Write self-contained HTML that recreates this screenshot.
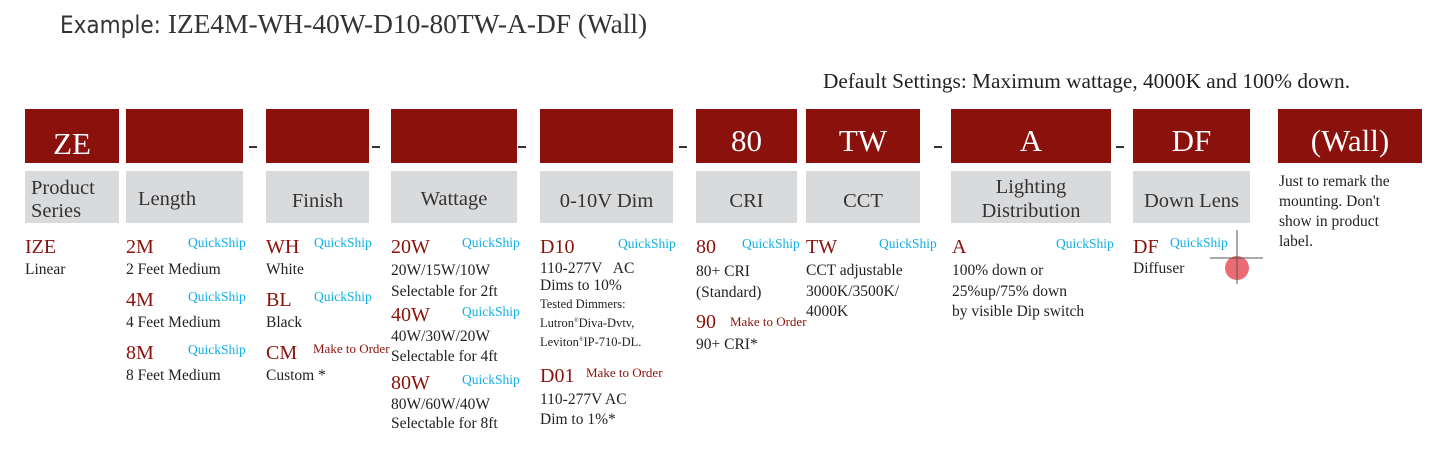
<!DOCTYPE html>
<html><head><meta charset="utf-8"><style>
body{margin:0;width:1450px;height:457px;background:#fff;position:relative;overflow:hidden;font-family:"Liberation Serif",serif;color:#222}
.a{position:absolute;line-height:1;white-space:nowrap}
.r{position:absolute;background:#8b120c;color:#fff;top:109px;height:54px;font-size:31px;display:flex;align-items:flex-end;justify-content:center;box-sizing:border-box}
.r span{position:relative;top:-4px}
.g{position:absolute;background:#d9dadc;color:#333;top:171px;height:52px;font-size:20.5px;display:flex;align-items:center;justify-content:center;line-height:23px;text-align:center;box-sizing:border-box}
.c{font-size:20px;color:#8b120c}
.q{font-size:13.5px;color:#10aee6}
.m{font-size:13px;color:#8b120c}
.d{font-size:15.5px;color:#222}
.dash{position:absolute;top:146px;width:8px;height:1.5px;background:#333}
</style></head><body>
<div class="a" style="left:60px;top:11px;font-size:27.4px;color:#333"><span style="font-family:'DejaVu Sans Condensed','Liberation Sans',sans-serif;font-size:24px">Example:</span> IZE4M-WH-40W-D10-80TW-A-DF (Wall)</div>
<div class="a" style="left:823px;top:71px;font-size:21.3px;color:#222">Default Settings: Maximum wattage, 4000K and 100% down.</div>

<div class="r" style="left:25px;width:94px"><span style="top:-1px">ZE</span></div>
<div class="r" style="left:126px;width:117px"></div>
<div class="r" style="left:266px;width:103px"></div>
<div class="r" style="left:391px;width:126px"></div>
<div class="r" style="left:540px;width:133px"></div>
<div class="r" style="left:696px;width:101px"><span>80</span></div>
<div class="r" style="left:806px;width:114px"><span>TW</span></div>
<div class="r" style="left:951px;width:160px"><span>A</span></div>
<div class="r" style="left:1133px;width:117px"><span>DF</span></div>
<div class="r" style="left:1278px;width:144px"><span>(Wall)</span></div>

<div class="dash" style="left:249px"></div>
<div class="dash" style="left:372px"></div>
<div class="dash" style="left:518px"></div>
<div class="dash" style="left:679px"></div>
<div class="dash" style="left:934px"></div>
<div class="dash" style="left:1116px"></div>

<div class="g" style="left:25px;width:94px;justify-content:flex-start;text-align:left;padding-left:6px;padding-top:6px">Product<br>Series</div>
<div class="g" style="left:126px;width:117px;justify-content:flex-start;padding-left:12px;padding-top:4px">Length</div>
<div class="g" style="left:266px;width:103px;padding-top:8px">Finish</div>
<div class="g" style="left:391px;width:126px;padding-top:4px">Wattage</div>
<div class="g" style="left:540px;width:133px;padding-top:8px">0-10V Dim</div>
<div class="g" style="left:696px;width:101px;padding-top:8px">CRI</div>
<div class="g" style="left:806px;width:114px;padding-top:8px">CCT</div>
<div class="g" style="left:951px;width:160px;padding-top:4px;line-height:24px">Lighting<br>Distribution</div>
<div class="g" style="left:1133px;width:117px;padding-top:8px">Down Lens</div>

<div class="a d" style="left:1279px;top:172px;line-height:20px;white-space:normal;width:130px">Just to remark the mounting. Don't show in product label.</div>

<!-- ZE -->
<div class="a c" style="left:25px;top:237px">IZE</div>
<div class="a d" style="left:25px;top:262px">Linear</div>
<!-- Length -->
<div class="a c" style="left:126px;top:237px">2M</div><div class="a q" style="left:188px;top:236px">QuickShip</div>
<div class="a d" style="left:126px;top:262px">2 Feet Medium</div>
<div class="a c" style="left:126px;top:290px">4M</div><div class="a q" style="left:188px;top:290px">QuickShip</div>
<div class="a d" style="left:126px;top:315px">4 Feet Medium</div>
<div class="a c" style="left:126px;top:343px">8M</div><div class="a q" style="left:188px;top:343px">QuickShip</div>
<div class="a d" style="left:126px;top:368px">8 Feet Medium</div>
<!-- Finish -->
<div class="a c" style="left:266px;top:237px">WH</div><div class="a q" style="left:314px;top:236px">QuickShip</div>
<div class="a d" style="left:266px;top:262px">White</div>
<div class="a c" style="left:266px;top:290px">BL</div><div class="a q" style="left:314px;top:290px">QuickShip</div>
<div class="a d" style="left:266px;top:315px">Black</div>
<div class="a c" style="left:266px;top:343px">CM</div><div class="a m" style="left:313px;top:342px">Make to Order</div>
<div class="a d" style="left:266px;top:368px">Custom *</div>
<!-- Wattage -->
<div class="a c" style="left:391px;top:237px">20W</div><div class="a q" style="left:462px;top:236px">QuickShip</div>
<div class="a d" style="left:391px;top:260px;line-height:21px">20W/15W/10W<br>Selectable for 2ft</div>
<div class="a c" style="left:391px;top:305px">40W</div><div class="a q" style="left:462px;top:305px">QuickShip</div>
<div class="a d" style="left:391px;top:327px;line-height:20px">40W/30W/20W<br>Selectable for 4ft</div>
<div class="a c" style="left:391px;top:373px">80W</div><div class="a q" style="left:462px;top:373px">QuickShip</div>
<div class="a d" style="left:391px;top:395px;line-height:19px">80W/60W/40W<br>Selectable for 8ft</div>
<!-- Dim -->
<div class="a c" style="left:540px;top:237px">D10</div><div class="a q" style="left:618px;top:237px">QuickShip</div>
<div class="a d" style="left:540px;top:260px;line-height:17px">110-277V &nbsp; AC<br>Dims to 10%</div>
<div class="a" style="left:540px;top:296px;font-size:12.5px;line-height:17px;color:#222">Tested Dimmers:<br>Lutron<sup style="font-size:6px">®</sup>Diva-Dvtv,<br>Leviton<sup style="font-size:6px">®</sup>IP-710-DL.</div>
<div class="a c" style="left:540px;top:366px">D01</div><div class="a m" style="left:586px;top:366px">Make to Order</div>
<div class="a d" style="left:540px;top:390px;line-height:20px">110-277V AC<br>Dim to 1%*</div>
<!-- CRI -->
<div class="a c" style="left:696px;top:237px">80</div><div class="a q" style="left:742px;top:237px">QuickShip</div>
<div class="a d" style="left:696px;top:261px;line-height:21px">80+ CRI<br>(Standard)</div>
<div class="a c" style="left:696px;top:312px">90</div><div class="a m" style="left:730px;top:315px">Make to Order</div>
<div class="a d" style="left:696px;top:337px">90+ CRI*</div>
<!-- CCT -->
<div class="a c" style="left:806px;top:237px">TW</div><div class="a q" style="left:879px;top:237px">QuickShip</div>
<div class="a d" style="left:806px;top:261px;line-height:20.5px">CCT adjustable<br>3000K/3500K/<br>4000K</div>
<!-- A -->
<div class="a c" style="left:952px;top:237px">A</div><div class="a q" style="left:1056px;top:237px">QuickShip</div>
<div class="a d" style="left:952px;top:261px;line-height:20.5px">100% down or<br>25%up/75% down<br>by visible Dip switch</div>
<!-- DF -->
<div class="a c" style="left:1133px;top:237px">DF</div><div class="a q" style="left:1170px;top:236px">QuickShip</div>
<div class="a d" style="left:1133px;top:261px">Diffuser</div>

<svg style="position:absolute;left:0;top:0" width="1450" height="457">
<circle cx="1237" cy="268" r="12" fill="#e8505c" opacity="0.85"/>
<line x1="1237" y1="230" x2="1237" y2="284" stroke="#555" stroke-width="1"/>
<line x1="1210" y1="258" x2="1263" y2="258" stroke="#555" stroke-width="1"/>
</svg>
</body></html>
